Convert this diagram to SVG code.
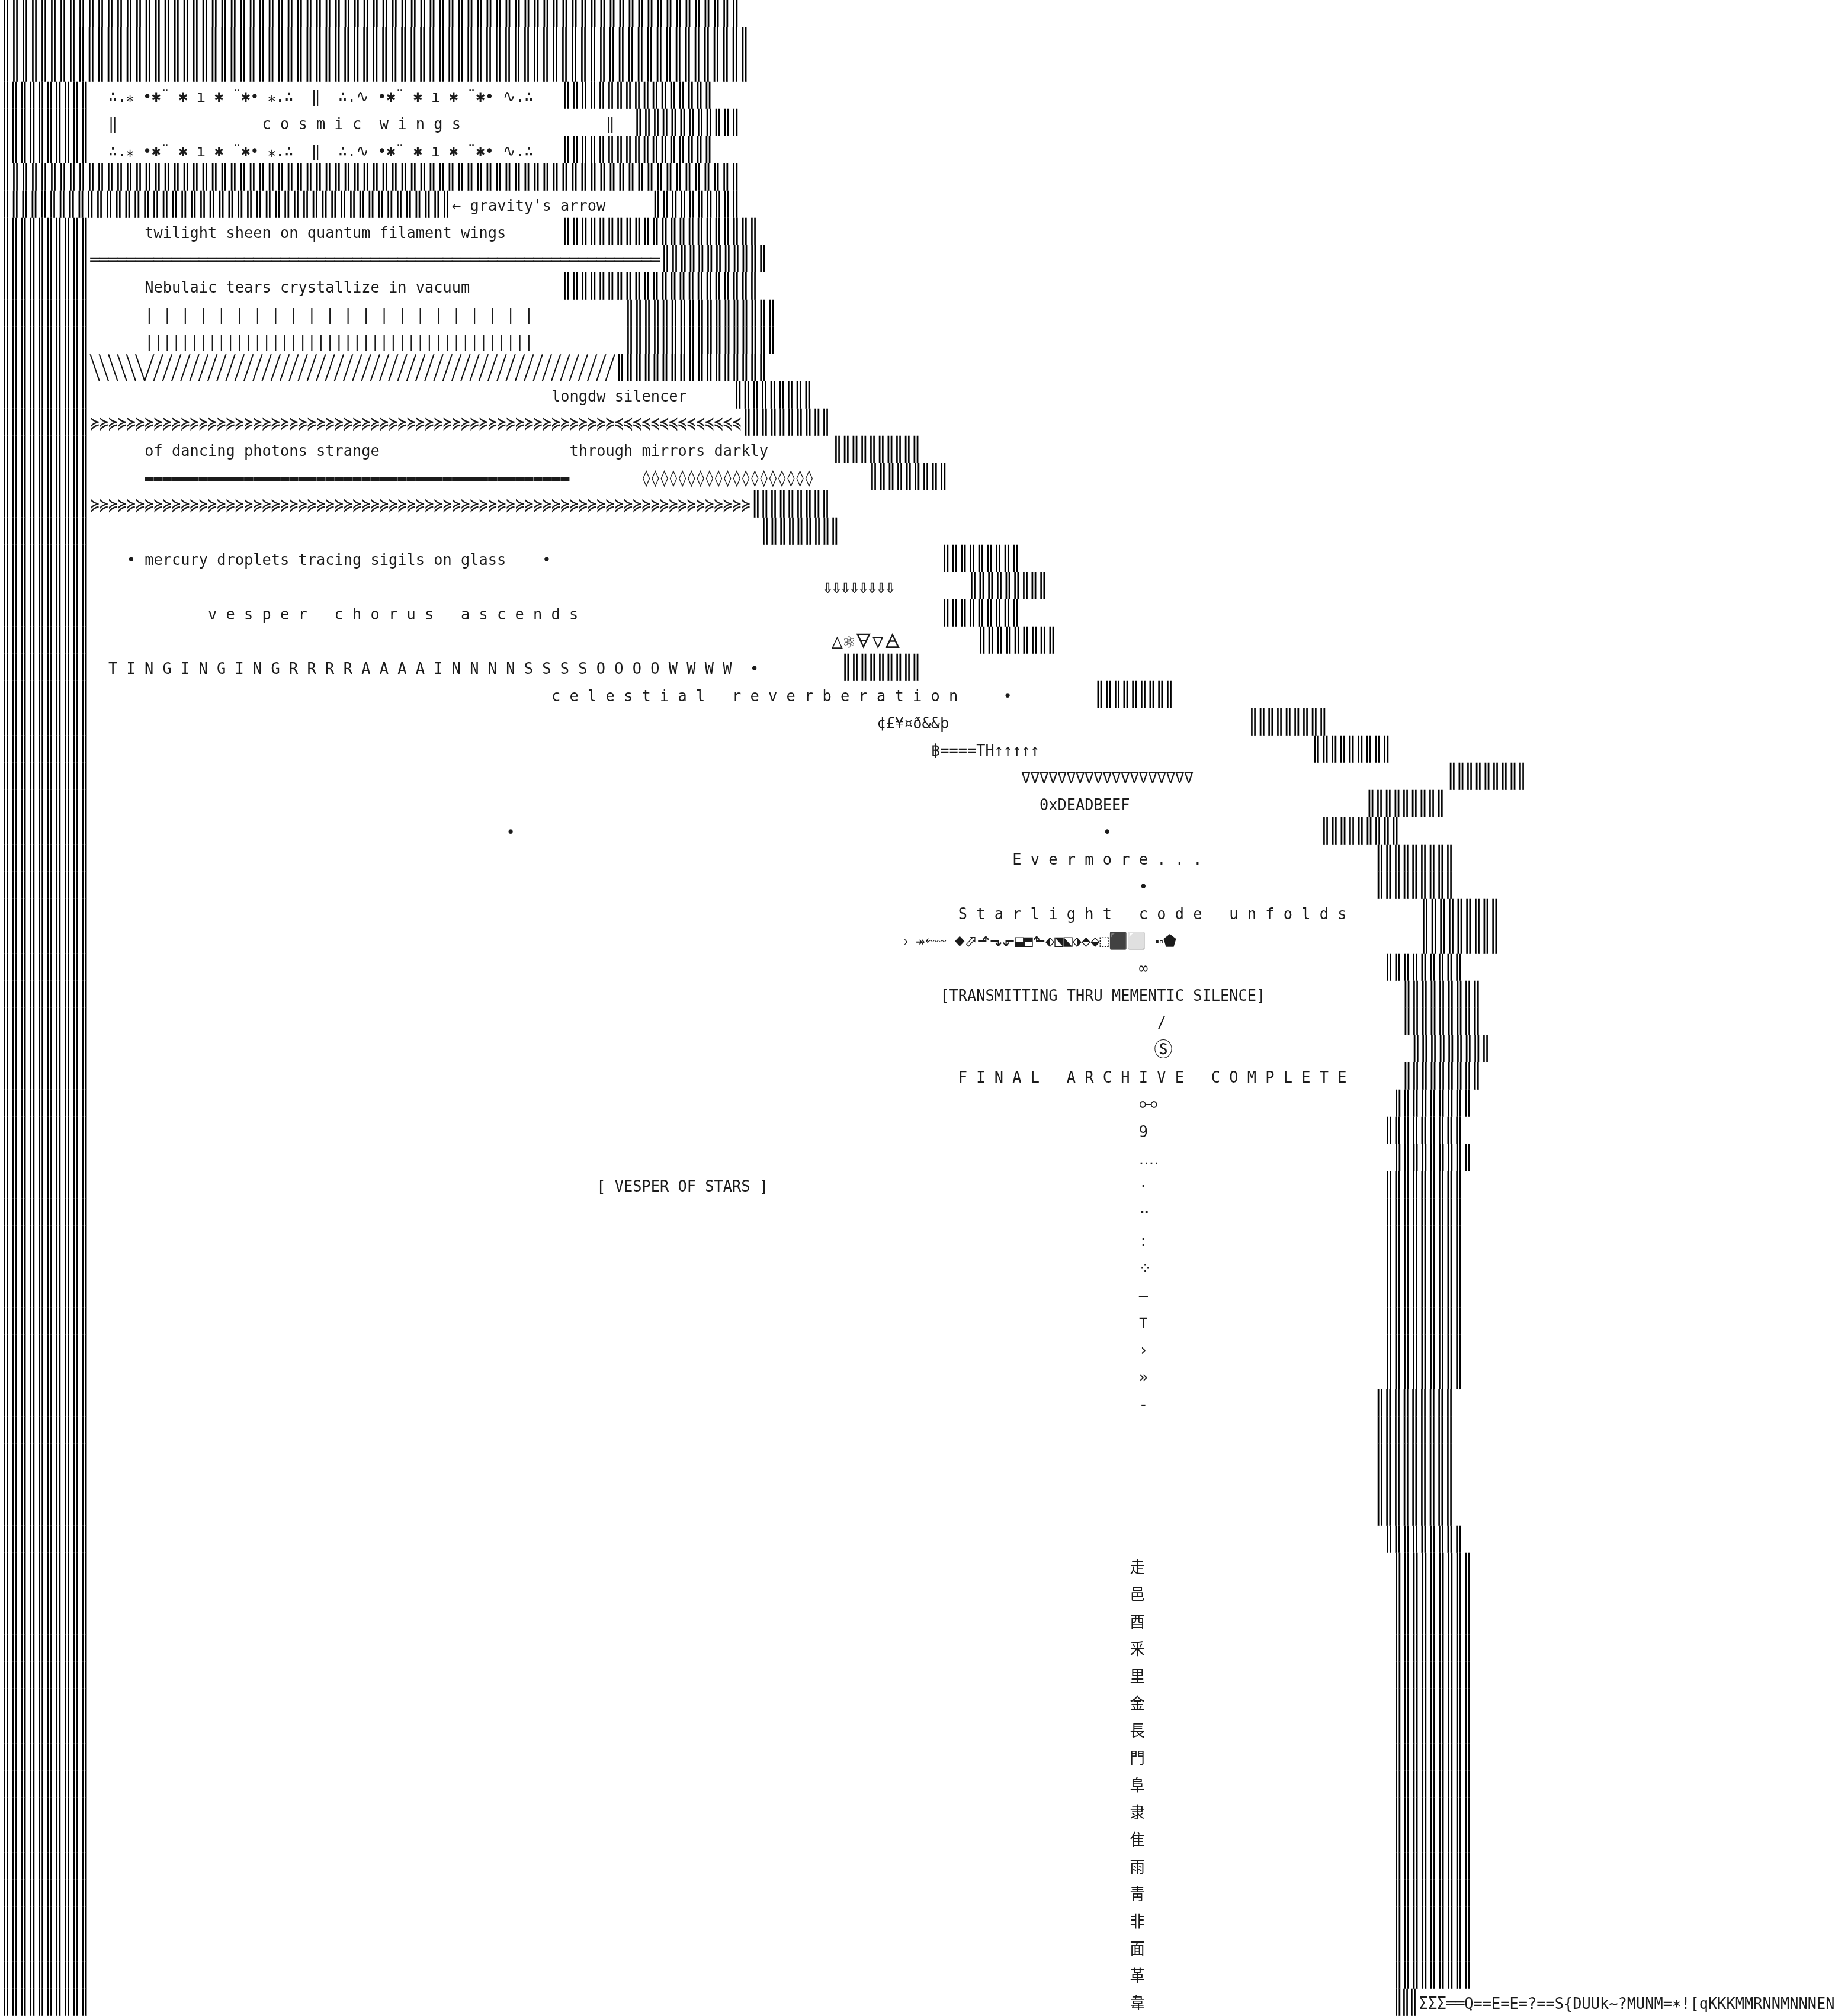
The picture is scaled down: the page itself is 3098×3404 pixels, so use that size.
<svg xmlns="http://www.w3.org/2000/svg" width="3098" height="3404" viewBox="0 0 3098 3404" xml:space="preserve">
<defs>
<filter id="gray" filterUnits="userSpaceOnUse" x="0" y="0" width="3098" height="3404" color-interpolation-filters="sRGB">
<feColorMatrix type="saturate" values="0"/>
</filter>
</defs>
<style>
text{font-family:"DejaVu Sans Mono","DejaVu Sans","Noto Sans","Noto Sans CJK SC",monospace;font-size:27.4px;fill:#1b1b1b;white-space:pre}
#bars text{fill:#000;font-size:36px;stroke:#000;stroke-width:0.15}
#diag text{fill:#111}
.cjk{font-family:"Noto Sans CJK SC","Noto Sans CJK JP",sans-serif}
.big{font-size:34px}
</style>
<rect width="3098" height="3404" fill="#ffffff"/>
<g id="art" filter="url(#gray)">
<g id="bars" transform="scale(0.92515 1.07317)">
<g id="topwall">
<text x="0" y="33.87" textLength="1352.65" lengthAdjust="spacing">║║║║║║║║║║║║║║║║║║║║║║║║║║║║║║║║║║║║║║║║║║║║║║║║║║║║║║║║║║║║║║║║║║║║║║║║║║║║║║</text>
<text x="0" y="76.74" textLength="1369.14" lengthAdjust="spacing">║║║║║║║║║║║║║║║║║║║║║║║║║║║║║║║║║║║║║║║║║║║║║║║║║║║║║║║║║║║║║║║║║║║║║║║║║║║║║║║</text>
<text x="0" y="119.60" textLength="1369.14" lengthAdjust="spacing">║║║║║║║║║║║║║║║║║║║║║║║║║║║║║║║║║║║║║║║║║║║║║║║║║║║║║║║║║║║║║║║║║║║║║║║║║║║║║║║</text>
<text x="0" y="291.06" textLength="1352.65" lengthAdjust="spacing">║║║║║║║║║║║║║║║║║║║║║║║║║║║║║║║║║║║║║║║║║║║║║║║║║║║║║║║║║║║║║║║║║║║║║║║║║║║║║║</text>
<text x="0" y="333.92" textLength="824.79" lengthAdjust="spacing">║║║║║║║║║║║║║║║║║║║║║║║║║║║║║║║║║║║║║║║║║║║║║║║║</text>
</g>
<g id="leftwall">
<text x="0" y="162.46" textLength="164.96" lengthAdjust="spacing">║║║║║║║║║║</text>
<text x="0" y="205.33" textLength="164.96" lengthAdjust="spacing">║║║║║║║║║║</text>
<text x="0" y="248.19" textLength="164.96" lengthAdjust="spacing">║║║║║║║║║║</text>
<text x="0" y="376.78" textLength="164.96" lengthAdjust="spacing">║║║║║║║║║║</text>
<text x="0" y="419.65" textLength="164.96" lengthAdjust="spacing">║║║║║║║║║║</text>
<text x="0" y="462.51" textLength="164.96" lengthAdjust="spacing">║║║║║║║║║║</text>
<text x="0" y="505.38" textLength="164.96" lengthAdjust="spacing">║║║║║║║║║║</text>
<text x="0" y="548.24" textLength="164.96" lengthAdjust="spacing">║║║║║║║║║║</text>
<text x="0" y="591.10" textLength="164.96" lengthAdjust="spacing">║║║║║║║║║║</text>
<text x="0" y="633.97" textLength="164.96" lengthAdjust="spacing">║║║║║║║║║║</text>
<text x="0" y="676.83" textLength="164.96" lengthAdjust="spacing">║║║║║║║║║║</text>
<text x="0" y="719.70" textLength="164.96" lengthAdjust="spacing">║║║║║║║║║║</text>
<text x="0" y="762.56" textLength="164.96" lengthAdjust="spacing">║║║║║║║║║║</text>
<text x="0" y="805.42" textLength="164.96" lengthAdjust="spacing">║║║║║║║║║║</text>
<text x="0" y="848.29" textLength="164.96" lengthAdjust="spacing">║║║║║║║║║║</text>
<text x="0" y="891.15" textLength="164.96" lengthAdjust="spacing">║║║║║║║║║║</text>
<text x="0" y="934.02" textLength="164.96" lengthAdjust="spacing">║║║║║║║║║║</text>
<text x="0" y="976.88" textLength="164.96" lengthAdjust="spacing">║║║║║║║║║║</text>
<text x="0" y="1019.74" textLength="164.96" lengthAdjust="spacing">║║║║║║║║║║</text>
<text x="0" y="1062.61" textLength="164.96" lengthAdjust="spacing">║║║║║║║║║║</text>
<text x="0" y="1105.47" textLength="164.96" lengthAdjust="spacing">║║║║║║║║║║</text>
<text x="0" y="1148.34" textLength="164.96" lengthAdjust="spacing">║║║║║║║║║║</text>
<text x="0" y="1191.20" textLength="164.96" lengthAdjust="spacing">║║║║║║║║║║</text>
<text x="0" y="1234.06" textLength="164.96" lengthAdjust="spacing">║║║║║║║║║║</text>
<text x="0" y="1276.93" textLength="164.96" lengthAdjust="spacing">║║║║║║║║║║</text>
<text x="0" y="1319.79" textLength="164.96" lengthAdjust="spacing">║║║║║║║║║║</text>
<text x="0" y="1362.66" textLength="164.96" lengthAdjust="spacing">║║║║║║║║║║</text>
<text x="0" y="1405.52" textLength="164.96" lengthAdjust="spacing">║║║║║║║║║║</text>
<text x="0" y="1448.38" textLength="164.96" lengthAdjust="spacing">║║║║║║║║║║</text>
<text x="0" y="1491.25" textLength="164.96" lengthAdjust="spacing">║║║║║║║║║║</text>
<text x="0" y="1534.11" textLength="164.96" lengthAdjust="spacing">║║║║║║║║║║</text>
<text x="0" y="1576.98" textLength="164.96" lengthAdjust="spacing">║║║║║║║║║║</text>
<text x="0" y="1619.84" textLength="164.96" lengthAdjust="spacing">║║║║║║║║║║</text>
<text x="0" y="1662.70" textLength="164.96" lengthAdjust="spacing">║║║║║║║║║║</text>
<text x="0" y="1705.57" textLength="164.96" lengthAdjust="spacing">║║║║║║║║║║</text>
<text x="0" y="1748.43" textLength="164.96" lengthAdjust="spacing">║║║║║║║║║║</text>
<text x="0" y="1791.30" textLength="164.96" lengthAdjust="spacing">║║║║║║║║║║</text>
<text x="0" y="1834.16" textLength="164.96" lengthAdjust="spacing">║║║║║║║║║║</text>
<text x="0" y="1877.02" textLength="164.96" lengthAdjust="spacing">║║║║║║║║║║</text>
<text x="0" y="1919.89" textLength="164.96" lengthAdjust="spacing">║║║║║║║║║║</text>
<text x="0" y="1962.75" textLength="164.96" lengthAdjust="spacing">║║║║║║║║║║</text>
<text x="0" y="2005.62" textLength="164.96" lengthAdjust="spacing">║║║║║║║║║║</text>
<text x="0" y="2048.48" textLength="164.96" lengthAdjust="spacing">║║║║║║║║║║</text>
<text x="0" y="2091.34" textLength="164.96" lengthAdjust="spacing">║║║║║║║║║║</text>
<text x="0" y="2134.21" textLength="164.96" lengthAdjust="spacing">║║║║║║║║║║</text>
<text x="0" y="2177.07" textLength="164.96" lengthAdjust="spacing">║║║║║║║║║║</text>
<text x="0" y="2219.94" textLength="164.96" lengthAdjust="spacing">║║║║║║║║║║</text>
<text x="0" y="2262.80" textLength="164.96" lengthAdjust="spacing">║║║║║║║║║║</text>
<text x="0" y="2305.66" textLength="164.96" lengthAdjust="spacing">║║║║║║║║║║</text>
<text x="0" y="2348.53" textLength="164.96" lengthAdjust="spacing">║║║║║║║║║║</text>
<text x="0" y="2391.39" textLength="164.96" lengthAdjust="spacing">║║║║║║║║║║</text>
<text x="0" y="2434.26" textLength="164.96" lengthAdjust="spacing">║║║║║║║║║║</text>
<text x="0" y="2477.12" textLength="164.96" lengthAdjust="spacing">║║║║║║║║║║</text>
<text x="0" y="2519.98" textLength="164.96" lengthAdjust="spacing">║║║║║║║║║║</text>
<text x="0" y="2562.85" textLength="164.96" lengthAdjust="spacing">║║║║║║║║║║</text>
<text x="0" y="2605.71" textLength="164.96" lengthAdjust="spacing">║║║║║║║║║║</text>
<text x="0" y="2648.58" textLength="164.96" lengthAdjust="spacing">║║║║║║║║║║</text>
<text x="0" y="2691.44" textLength="164.96" lengthAdjust="spacing">║║║║║║║║║║</text>
<text x="0" y="2734.30" textLength="164.96" lengthAdjust="spacing">║║║║║║║║║║</text>
<text x="0" y="2777.17" textLength="164.96" lengthAdjust="spacing">║║║║║║║║║║</text>
<text x="0" y="2820.03" textLength="164.96" lengthAdjust="spacing">║║║║║║║║║║</text>
<text x="0" y="2862.90" textLength="164.96" lengthAdjust="spacing">║║║║║║║║║║</text>
<text x="0" y="2905.76" textLength="164.96" lengthAdjust="spacing">║║║║║║║║║║</text>
<text x="0" y="2948.62" textLength="164.96" lengthAdjust="spacing">║║║║║║║║║║</text>
<text x="0" y="2991.49" textLength="164.96" lengthAdjust="spacing">║║║║║║║║║║</text>
<text x="0" y="3034.35" textLength="164.96" lengthAdjust="spacing">║║║║║║║║║║</text>
<text x="0" y="3077.22" textLength="164.96" lengthAdjust="spacing">║║║║║║║║║║</text>
<text x="0" y="3120.08" textLength="164.96" lengthAdjust="spacing">║║║║║║║║║║</text>
<text x="0" y="3162.94" textLength="164.96" lengthAdjust="spacing">║║║║║║║║║║</text>
</g>
<g id="rightwall">
<text x="1022.73" y="162.46" textLength="280.43" lengthAdjust="spacing">║║║║║║║║║║║║║║║║║</text>
<text x="1154.70" y="205.33" textLength="197.95" lengthAdjust="spacing">║║║║║║║║║║║║</text>
<text x="1022.73" y="248.19" textLength="280.43" lengthAdjust="spacing">║║║║║║║║║║║║║║║║║</text>
<text x="1187.69" y="333.92" textLength="164.96" lengthAdjust="spacing">║║║║║║║║║║</text>
<text x="1022.73" y="376.78" textLength="362.91" lengthAdjust="spacing">║║║║║║║║║║║║║║║║║║║║║║</text>
<text x="1204.19" y="419.65" textLength="197.95" lengthAdjust="spacing">║║║║║║║║║║║║</text>
<text x="1022.73" y="462.51" textLength="362.91" lengthAdjust="spacing">║║║║║║║║║║║║║║║║║║║║║║</text>
<text x="1138.20" y="505.38" textLength="280.43" lengthAdjust="spacing">║║║║║║║║║║║║║║║║║</text>
<text x="1138.20" y="548.24" textLength="280.43" lengthAdjust="spacing">║║║║║║║║║║║║║║║║║</text>
<text x="1121.71" y="591.10" textLength="280.43" lengthAdjust="spacing">║║║║║║║║║║║║║║║║║</text>
<text x="1336.15" y="633.97" textLength="148.46" lengthAdjust="spacing">║║║║║║║║║</text>
<text x="1352.65" y="676.83" textLength="164.96" lengthAdjust="spacing">║║║║║║║║║║</text>
<text x="1517.60" y="719.70" textLength="164.96" lengthAdjust="spacing">║║║║║║║║║║</text>
<text x="1583.59" y="762.56" textLength="148.46" lengthAdjust="spacing">║║║║║║║║║</text>
<text x="1369.14" y="805.42" textLength="148.46" lengthAdjust="spacing">║║║║║║║║║</text>
<text x="1385.64" y="848.29" textLength="148.46" lengthAdjust="spacing">║║║║║║║║║</text>
<text x="1715.55" y="891.15" textLength="148.46" lengthAdjust="spacing">║║║║║║║║║</text>
<text x="1765.04" y="934.02" textLength="148.46" lengthAdjust="spacing">║║║║║║║║║</text>
<text x="1715.55" y="976.88" textLength="148.46" lengthAdjust="spacing">║║║║║║║║║</text>
<text x="1781.54" y="1019.74" textLength="148.46" lengthAdjust="spacing">║║║║║║║║║</text>
<text x="1534.10" y="1062.61" textLength="148.46" lengthAdjust="spacing">║║║║║║║║║</text>
<text x="1995.98" y="1105.47" textLength="148.46" lengthAdjust="spacing">║║║║║║║║║</text>
<text x="2276.41" y="1148.34" textLength="148.46" lengthAdjust="spacing">║║║║║║║║║</text>
<text x="2391.88" y="1191.20" textLength="148.46" lengthAdjust="spacing">║║║║║║║║║</text>
<text x="2639.31" y="1234.06" textLength="148.46" lengthAdjust="spacing">║║║║║║║║║</text>
<text x="2490.85" y="1276.93" textLength="148.46" lengthAdjust="spacing">║║║║║║║║║</text>
<text x="2408.37" y="1319.79" textLength="148.46" lengthAdjust="spacing">║║║║║║║║║</text>
<text x="2507.35" y="1362.66" textLength="148.46" lengthAdjust="spacing">║║║║║║║║║</text>
<text x="2507.35" y="1405.52" textLength="148.46" lengthAdjust="spacing">║║║║║║║║║</text>
<text x="2589.82" y="1448.38" textLength="148.46" lengthAdjust="spacing">║║║║║║║║║</text>
<text x="2589.82" y="1491.25" textLength="148.46" lengthAdjust="spacing">║║║║║║║║║</text>
<text x="2523.84" y="1534.11" textLength="148.46" lengthAdjust="spacing">║║║║║║║║║</text>
<text x="2556.83" y="1576.98" textLength="148.46" lengthAdjust="spacing">║║║║║║║║║</text>
<text x="2556.83" y="1619.84" textLength="148.46" lengthAdjust="spacing">║║║║║║║║║</text>
<text x="2573.33" y="1662.70" textLength="148.46" lengthAdjust="spacing">║║║║║║║║║</text>
<text x="2556.83" y="1705.57" textLength="148.46" lengthAdjust="spacing">║║║║║║║║║</text>
<text x="2540.34" y="1748.43" textLength="148.46" lengthAdjust="spacing">║║║║║║║║║</text>
<text x="2523.84" y="1791.30" textLength="148.46" lengthAdjust="spacing">║║║║║║║║║</text>
<text x="2540.34" y="1834.16" textLength="148.46" lengthAdjust="spacing">║║║║║║║║║</text>
<text x="2523.84" y="1877.02" textLength="148.46" lengthAdjust="spacing">║║║║║║║║║</text>
<text x="2523.84" y="1919.89" textLength="148.46" lengthAdjust="spacing">║║║║║║║║║</text>
<text x="2523.84" y="1962.75" textLength="148.46" lengthAdjust="spacing">║║║║║║║║║</text>
<text x="2523.84" y="2005.62" textLength="148.46" lengthAdjust="spacing">║║║║║║║║║</text>
<text x="2523.84" y="2048.48" textLength="148.46" lengthAdjust="spacing">║║║║║║║║║</text>
<text x="2523.84" y="2091.34" textLength="148.46" lengthAdjust="spacing">║║║║║║║║║</text>
<text x="2523.84" y="2134.21" textLength="148.46" lengthAdjust="spacing">║║║║║║║║║</text>
<text x="2523.84" y="2177.07" textLength="148.46" lengthAdjust="spacing">║║║║║║║║║</text>
<text x="2507.35" y="2219.94" textLength="148.46" lengthAdjust="spacing">║║║║║║║║║</text>
<text x="2507.35" y="2262.80" textLength="148.46" lengthAdjust="spacing">║║║║║║║║║</text>
<text x="2507.35" y="2305.66" textLength="148.46" lengthAdjust="spacing">║║║║║║║║║</text>
<text x="2507.35" y="2348.53" textLength="148.46" lengthAdjust="spacing">║║║║║║║║║</text>
<text x="2507.35" y="2391.39" textLength="148.46" lengthAdjust="spacing">║║║║║║║║║</text>
<text x="2523.84" y="2434.26" textLength="148.46" lengthAdjust="spacing">║║║║║║║║║</text>
<text x="2540.34" y="2477.12" textLength="148.46" lengthAdjust="spacing">║║║║║║║║║</text>
<text x="2540.34" y="2519.98" textLength="148.46" lengthAdjust="spacing">║║║║║║║║║</text>
<text x="2540.34" y="2562.85" textLength="148.46" lengthAdjust="spacing">║║║║║║║║║</text>
<text x="2540.34" y="2605.71" textLength="148.46" lengthAdjust="spacing">║║║║║║║║║</text>
<text x="2540.34" y="2648.58" textLength="148.46" lengthAdjust="spacing">║║║║║║║║║</text>
<text x="2540.34" y="2691.44" textLength="148.46" lengthAdjust="spacing">║║║║║║║║║</text>
<text x="2540.34" y="2734.30" textLength="148.46" lengthAdjust="spacing">║║║║║║║║║</text>
<text x="2540.34" y="2777.17" textLength="148.46" lengthAdjust="spacing">║║║║║║║║║</text>
<text x="2540.34" y="2820.03" textLength="148.46" lengthAdjust="spacing">║║║║║║║║║</text>
<text x="2540.34" y="2862.90" textLength="148.46" lengthAdjust="spacing">║║║║║║║║║</text>
<text x="2540.34" y="2905.76" textLength="148.46" lengthAdjust="spacing">║║║║║║║║║</text>
<text x="2540.34" y="2948.62" textLength="148.46" lengthAdjust="spacing">║║║║║║║║║</text>
<text x="2540.34" y="2991.49" textLength="148.46" lengthAdjust="spacing">║║║║║║║║║</text>
<text x="2540.34" y="3034.35" textLength="148.46" lengthAdjust="spacing">║║║║║║║║║</text>
<text x="2540.34" y="3077.22" textLength="148.46" lengthAdjust="spacing">║║║║║║║║║</text>
<text x="2540.34" y="3120.08" textLength="148.46" lengthAdjust="spacing">║║║║║║║║║</text>
<text x="2540.34" y="3162.94" textLength="49.49" lengthAdjust="spacing">║║║</text>
</g>
</g>
<g id="diag" transform="scale(0.92515 1.41)">
<text id="slashes" x="164.96" y="449.89" textLength="956.75" lengthAdjust="spacing">╲╲╲╲╲╲╱╱╱╱╱╱╱╱╱╱╱╱╱╱╱╱╱╱╱╱╱╱╱╱╱╱╱╱╱╱╱╱╱╱╱╱╱╱╱╱╱╱╱╱╱╱╱╱╱╱╱╱</text>
</g>
<g id="words" transform="scale(0.92515 1)">
<g id="title">
<text x="197.95" y="172" textLength="775.30" lengthAdjust="spacing">∴.⁎ •✱¨ ✱ ı ✱ ¨✱• ⁎.∴  ‖  ∴.∿ •✱¨ ✱ ı ✱ ¨✱• ∿.∴</text>
<text x="197.95" y="218">‖</text>
<text x="478.38" y="218">c o s m i c  w i n g s</text>
<text x="1105.21" y="218">‖</text>
<text x="197.95" y="264" textLength="775.30" lengthAdjust="spacing">∴.⁎ •✱¨ ✱ ı ✱ ¨✱• ⁎.∴  ‖  ∴.∿ •✱¨ ✱ ı ✱ ¨✱• ∿.∴</text>
</g>
<g id="upper">
<text x="824.79" y="356">← gravity's arrow</text>
<text x="263.93" y="402">twilight sheen on quantum filament wings</text>
<text x="164.96" y="448" textLength="1039.23" lengthAdjust="spacing" style="stroke:#1b1b1b;stroke-width:0.6">═══════════════════════════════════════════════════════════════</text>
<text x="263.93" y="494">Nebulaic tears crystallize in vacuum</text>
<text x="263.93" y="540" textLength="709.32" lengthAdjust="spacing">| | | | | | | | | | | | | | | | | | | | | |</text>
<text x="263.93" y="586" textLength="709.32" lengthAdjust="spacing">|||||||||||||||||||||||||||||||||||||||||||</text>
<text x="1006.24" y="678">longdw silencer</text>
<text x="164.96" y="724" textLength="1187.69" lengthAdjust="spacing">≽≽≽≽≽≽≽≽≽≽≽≽≽≽≽≽≽≽≽≽≽≽≽≽≽≽≽≽≽≽≽≽≽≽≽≽≽≽≽≽≽≽≽≽≽≽≽≽≽≽≽≽≽≽≽≽≽≽≼≼≼≼≼≼≼≼≼≼≼≼≼≼</text>
<text x="263.93" y="770">of dancing photons strange</text>
<text x="1039.23" y="770">through mirrors darkly</text>
<text x="263.93" y="816" textLength="775.30" lengthAdjust="spacing">▬▬▬▬▬▬▬▬▬▬▬▬▬▬▬▬▬▬▬▬▬▬▬▬▬▬▬▬▬▬▬▬▬▬▬▬▬▬▬▬▬▬▬▬▬▬▬</text>
<text x="1171.19" y="816" textLength="313.42" lengthAdjust="spacing">◊◊◊◊◊◊◊◊◊◊◊◊◊◊◊◊◊◊◊</text>
<text x="164.96" y="862" textLength="1204.19" lengthAdjust="spacing">≽≽≽≽≽≽≽≽≽≽≽≽≽≽≽≽≽≽≽≽≽≽≽≽≽≽≽≽≽≽≽≽≽≽≽≽≽≽≽≽≽≽≽≽≽≽≽≽≽≽≽≽≽≽≽≽≽≽≽≽≽≽≽≽≽≽≽≽≽≽≽≽≽</text>
</g>
<g id="middle">
<text x="230.94" y="954">• mercury droplets tracing sigils on glass    •</text>
<text x="1501.11" y="1001" textLength="131.97" lengthAdjust="spacing" style="font-size:30px;stroke:#1b1b1b;stroke-width:0.6">⇩⇩⇩⇩⇩⇩⇩⇩</text>
<text x="379.40" y="1046">v e s p e r   c h o r u s   a s c e n d s</text>
<text x="1517.60" y="1094" class="big" textLength="126" lengthAdjust="spacing">△⚛🜃▽🜁</text>
<text x="197.95" y="1138">T I N G I N G I N G R R R R A A A A I N N N N S S S S O O O O W W W W  •</text>
<text x="1006.24" y="1184">c e l e s t i a l   r e v e r b e r a t i o n     •</text>
<text x="1600.08" y="1230">¢£¥¤ð&amp;&amp;þ</text>
<text x="1699.06" y="1276">฿====TH↑↑↑↑↑</text>
<text x="1864.01" y="1322" textLength="313.42" lengthAdjust="spacing">∇∇∇∇∇∇∇∇∇∇∇∇∇∇∇∇∇∇∇</text>
<text x="1897.01" y="1368">0xDEADBEEF</text>
<text x="923.76" y="1414">•</text>
<text x="2012.48" y="1414">•</text>
<text x="1847.52" y="1460">E v e r m o r e . . .</text>
<text x="2078.46" y="1506">•</text>
<text x="1748.54" y="1552">S t a r l i g h t   c o d e   u n f o l d s</text>
<text x="1649.57" y="1598">⤚↠⬳ ⬥⬀⬏⬎⬐⬓⬒⬑⬖⬔⬕⬗⬘⬙⬚⬛⬜ ⬝⬞⬟</text>
<text x="2078.46" y="1644">∞</text>
<text x="1715.55" y="1690">[TRANSMITTING THRU MEMENTIC SILENCE]</text>
<text x="2111.45" y="1736">/</text>
<text x="2106" y="1784" class="big">Ⓢ</text>
<text x="1748.54" y="1828">F I N A L   A R C H I V E   C O M P L E T E</text>
</g>
<g id="column">
<text x="2078.46" y="1874" class="big">⧟</text>
<text x="2078.46" y="1920">9</text>
<text x="2078.46" y="1966">‥‥</text>
<text x="1088.72" y="2012">[ VESPER OF STARS ]</text>
<text x="2078.46" y="2012">·</text>
<text x="2078.46" y="2058">⠒</text>
<text x="2078.46" y="2104">:</text>
<text x="2078.46" y="2150">⁘</text>
<text x="2078.46" y="2196">–</text>
<text x="2078.46" y="2242">⊤</text>
<text x="2078.46" y="2288">›</text>
<text x="2078.46" y="2334">»</text>
<text x="2078.46" y="2380">-</text>
</g>
<g id="radicals">
<text class="cjk" x="2061.96" y="2656">⾛</text>
<text class="cjk" x="2061.96" y="2702">⾢</text>
<text class="cjk" x="2061.96" y="2748">⾣</text>
<text class="cjk" x="2061.96" y="2794">⾤</text>
<text class="cjk" x="2061.96" y="2840">⾥</text>
<text class="cjk" x="2061.96" y="2886">⾦</text>
<text class="cjk" x="2061.96" y="2932">⾧</text>
<text class="cjk" x="2061.96" y="2978">⾨</text>
<text class="cjk" x="2061.96" y="3024">⾩</text>
<text class="cjk" x="2061.96" y="3070">⾪</text>
<text class="cjk" x="2061.96" y="3116">⾫</text>
<text class="cjk" x="2061.96" y="3162">⾬</text>
<text class="cjk" x="2061.96" y="3208">⾭</text>
<text class="cjk" x="2061.96" y="3254">⾮</text>
<text class="cjk" x="2061.96" y="3300">⾯</text>
<text class="cjk" x="2061.96" y="3346">⾰</text>
<text class="cjk" x="2061.96" y="3392">⾱</text>
</g>
<text id="tail" x="2589.82" y="3392">ΣΣΣ══Q==E=E=?==S{DUUk~?MUNM=∗![qKKKMMRNNMNNNEN</text>
</g>
</g>
</svg>
